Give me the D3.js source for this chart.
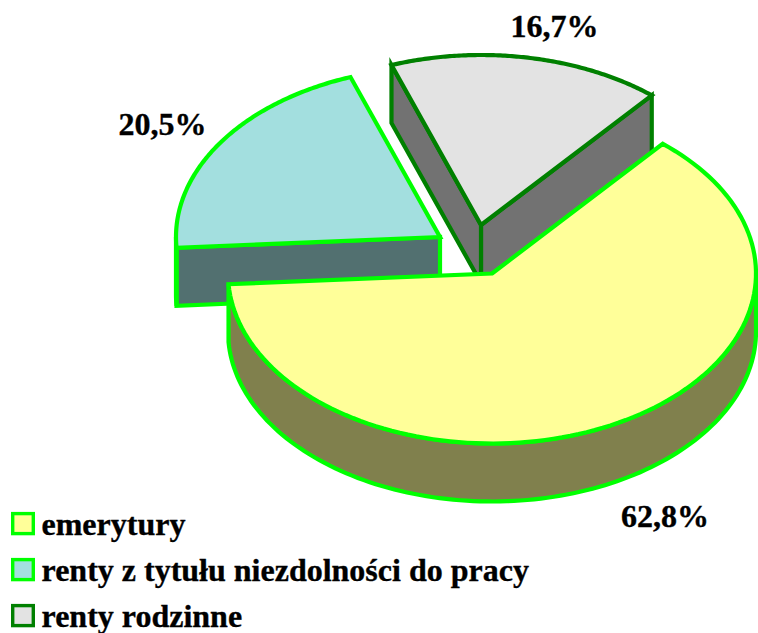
<!DOCTYPE html>
<html><head><meta charset="utf-8">
<script src="https://cdn.jsdelivr.net/npm/d3@7/dist/d3.min.js"></script>
<style>html,body{margin:0;padding:0;background:#fff}svg{display:block}
text{font-family:"Liberation Serif","Times New Roman",serif;font-weight:bold;fill:#000;stroke:#000;stroke-width:.35px}</style>
</head><body><svg id="c" width="758" height="633"></svg>
<script>
const categories = ["emerytury", "renty z tytułu niezdolności do pracy", "renty rodzinne"];
const values = [62.8, 20.5, 16.7];
const valueLabels = ["62,8%", "20,5%", "16,7%"];
const topColors = ["#FFFF99", "#A3DFDF", "#E3E3E3"];
const sideColors = ["#80804D", "#527070", "#727272"];
const strokeColors = ["#00FF00", "#00FF00", "#008000"];

const svg = d3.select("#c");
const RX = 264, RY = 170, DEPTH = 58, RAD = Math.PI / 180;
// exploded apex of every slice, and where its label sits
const apexX = [492, 440, 481], apexY = [273.5, 237, 225];
const labelX = [665, 162.5, 554.5], labelY = [527, 135, 37];

const arcs = d3.pie().sort(null).value(d => d)
  .startAngle(40.3 * RAD).endAngle(400.3 * RAD)(values);

const unitX = d3.scaleLinear().domain([-1, 1]).range([-RX, RX]);
const unitY = d3.scaleLinear().domain([-1, 1]).range([-RY, RY]);
const line = d3.line();
const rim = (i, a, dz = 0) => [apexX[i] + unitX(Math.sin(a)), apexY[i] - unitY(Math.cos(a)) + dz];
const rimPts = (i, a0, a1, dz = 0) => d3.range(0, 121).map(k => rim(i, a0 + (a1 - a0) * k / 120, dz));

// back to front: grey, blue, yellow
[2, 1, 0].forEach(i => {
  const a0 = arcs[i].startAngle, a1 = arcs[i].endAngle;
  const g = svg.append("g").attr("stroke", strokeColors[i]).attr("stroke-width", 4.2)
    .attr("stroke-linejoin", "miter").attr("stroke-miterlimit", 10);
  const apex = [apexX[i], apexY[i]];
  const wall = a => {
    const p = rim(i, a);
    g.append("path").attr("fill", sideColors[i])
      .attr("d", line([apex, p, [p[0], p[1] + DEPTH], [apex[0], apex[1] + DEPTH]]) + "Z");
  };
  // walls that face the viewer
  if (i === 2) { wall(a1); wall(a0); }
  if (i === 1) { wall(a0); }
  // curved outer side of the front half
  const s0 = Math.max(a0, Math.PI / 2), s1 = Math.min(a1, 1.5 * Math.PI);
  if (s1 > s0) {
    const pts = rimPts(i, s0, s1).concat(rimPts(i, s1, s0, DEPTH));
    g.append("path").attr("fill", sideColors[i]).attr("d", line(pts) + "Z");
  }
  // top face
  g.append("path").attr("fill", topColors[i])
    .attr("d", line([apex].concat(rimPts(i, a0, a1))) + "Z");
});

// value labels
svg.selectAll("text.v").data(valueLabels).join("text").attr("class", "v")
  .attr("x", (d, i) => labelX[i]).attr("y", (d, i) => labelY[i])
  .attr("text-anchor", "middle").attr("font-size", 32).text(d => d);

// legend
const legendY = d3.scalePoint().domain(categories).range([512, 604]);
const legend = svg.selectAll("g.l").data(categories).join("g").attr("class", "l")
  .attr("transform", d => `translate(0,${legendY(d)})`);
legend.append("rect").attr("x", 12.7).attr("y", 1.6).attr("width", 20.6).attr("height", 20)
  .attr("fill", (d, i) => topColors[i]).attr("stroke", (d, i) => strokeColors[i]).attr("stroke-width", 3.4);
legend.append("text").attr("x", 41.5).attr("y", 23).attr("font-size", 32).text(d => d);
</script></body></html>
